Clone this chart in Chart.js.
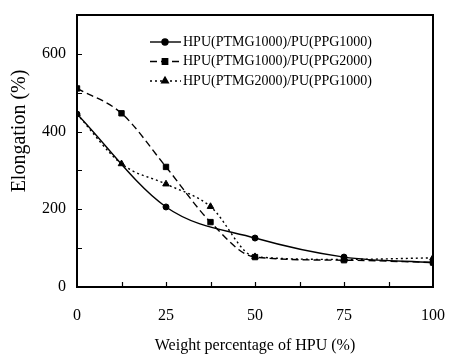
<!DOCTYPE html>
<html>
<head>
    <title>Elongation vs HPU</title>
    <script src="https://cdn.jsdelivr.net/npm/chart.js@4.4.1/dist/chart.umd.min.js"></script>
    <style>
        html, body { margin: 0; padding: 0; background: #fff; }
        .chart-container { width: 449px; height: 355px; }
    </style>
</head>
<body>
    <div class="chart-container">
        <canvas id="elongChart" width="449" height="355"></canvas>
    </div>

    <script>
        // data
        const seriesNames = ['HPU(PTMG1000)/PU(PPG1000)', 'HPU(PTMG1000)/PU(PPG2000)', 'HPU(PTMG2000)/PU(PPG1000)'];
        const x1 = [0, 25, 50, 75, 100];
        const y1 = [445, 206, 126, 77, 63];
        const x2 = [0, 12.5, 25, 37.5, 50, 75, 100];
        const y2 = [511, 447, 309, 167, 77, 69, 63];
        const x3 = [0, 12.5, 25, 37.5, 50, 75, 100];
        const y3 = [445, 317, 265, 207, 78, 71, 75];

        const xTickLabels = [0, 25, 50, 75, 100];
        const yTickLabels = [0, 200, 400, 600];
        const xMinorTicks = [12.5, 25, 37.5, 50, 62.5, 75, 87.5];
        const yMinorTicks = [100, 200, 300, 400, 500, 600];
        const yTitle = 'Elongation (%)';

        const serif = "'Liberation Serif', 'DejaVu Serif', serif";
        const pts = (xs, ys) => xs.map((x, i) => ({ x: x, y: ys[i] }));

        // frame, inward ticks, y title and legend inside the plot
        const framePlugin = {
            id: 'frame',
            afterDraw(chart) {
                const ctx = chart.ctx;
                const a = chart.chartArea;
                const xs = chart.scales.x, ys = chart.scales.y;
                ctx.save();
                ctx.strokeStyle = '#000';
                ctx.lineWidth = 2;
                ctx.strokeRect(a.left, a.top, a.right - a.left, a.bottom - a.top);
                ctx.lineWidth = 1.2;
                ctx.beginPath();
                xMinorTicks.forEach(v => {
                    const px = Math.round(xs.getPixelForValue(v)) + 0.5;
                    ctx.moveTo(px, a.bottom);
                    ctx.lineTo(px, a.bottom - 5);
                });
                yMinorTicks.forEach(v => {
                    const py = Math.round(ys.getPixelForValue(v)) + 0.5;
                    ctx.moveTo(a.left, py);
                    ctx.lineTo(a.left + 5, py);
                });
                ctx.stroke();

                // y title sits a little above the middle in the original
                ctx.fillStyle = '#000';
                ctx.save();
                ctx.translate(20, 131);
                ctx.rotate(-Math.PI / 2);
                ctx.font = '20px ' + serif;
                ctx.textAlign = 'center';
                ctx.textBaseline = 'middle';
                ctx.fillText(yTitle, 0, 0);
                ctx.restore();

                // legend
                const lx = a.left + 73, ly = a.top + 27, rowH = 19.5;
                chart.data.datasets.forEach((ds, i) => {
                    const y = ly + i * rowH;
                    ctx.setLineDash(ds.borderDash || []);
                    ctx.lineWidth = 1.4;
                    ctx.beginPath();
                    ctx.moveTo(lx, y);
                    ctx.lineTo(lx + 31, y);
                    ctx.stroke();
                    ctx.setLineDash([]);
                    Chart.helpers.drawPoint(ctx, {
                        pointStyle: ds.pointStyle,
                        radius: ds.pointRadius,
                        rotation: 0,
                        borderWidth: 1
                    }, lx + 15, y);
                    ctx.fillStyle = '#000';
                    ctx.font = '14px ' + serif;
                    ctx.textBaseline = 'middle';
                    ctx.textAlign = 'left';
                    ctx.fillText(ds.label, lx + 33, y);
                });
                ctx.restore();
            }
        };

        const common = {
            borderColor: '#000',
            backgroundColor: '#000',
            borderWidth: 1.4,
            pointBorderWidth: 1,
            cubicInterpolationMode: 'monotone',
            fill: false
        };

        new Chart(document.getElementById('elongChart'), {
            type: 'line',
            data: {
                datasets: [
                    Object.assign({ label: seriesNames[0], data: pts(x1, y1), pointStyle: 'circle', pointRadius: 3 }, common),
                    Object.assign({ label: seriesNames[1], data: pts(x2, y2), pointStyle: 'rect', pointRadius: 3.8, borderDash: [7, 4] }, common),
                    Object.assign({ label: seriesNames[2], data: pts(x3, y3), pointStyle: 'triangle', pointRadius: 3.8, borderDash: [2, 3] }, common)
                ]
            },
            options: {
                responsive: false,
                animation: false,
                layout: { padding: { top: 15, right: 16, left: 0, bottom: 0 } },
                plugins: { legend: { display: false }, tooltip: { enabled: false } },
                scales: {
                    x: {
                        type: 'linear',
                        min: 0, max: 100,
                        grid: { display: false },
                        border: { display: false },
                        afterBuildTicks: s => { s.ticks = xTickLabels.map(v => ({ value: v })); },
                        afterFit: s => { s.height = 68; s.paddingLeft = 0; s.paddingRight = 0; },
                        ticks: { color: '#000', padding: 11, maxRotation: 0, font: { family: serif, size: 16 } },
                        title: { display: true, text: 'Weight percentage of HPU (%)', color: '#000', padding: { top: 5, bottom: 0 }, font: { family: serif, size: 16 } }
                    },
                    y: {
                        min: 0, max: 700,
                        grid: { display: false },
                        border: { display: false },
                        afterBuildTicks: s => { s.ticks = yTickLabels.map(v => ({ value: v })); },
                        afterFit: s => { s.width = 77; s.paddingTop = 0; s.paddingBottom = 0; },
                        ticks: { color: '#000', padding: 3, font: { family: serif, size: 16 } },
                        title: { display: false }
                    }
                }
            },
            plugins: [framePlugin]
        });
    </script>
</body>
</html>
